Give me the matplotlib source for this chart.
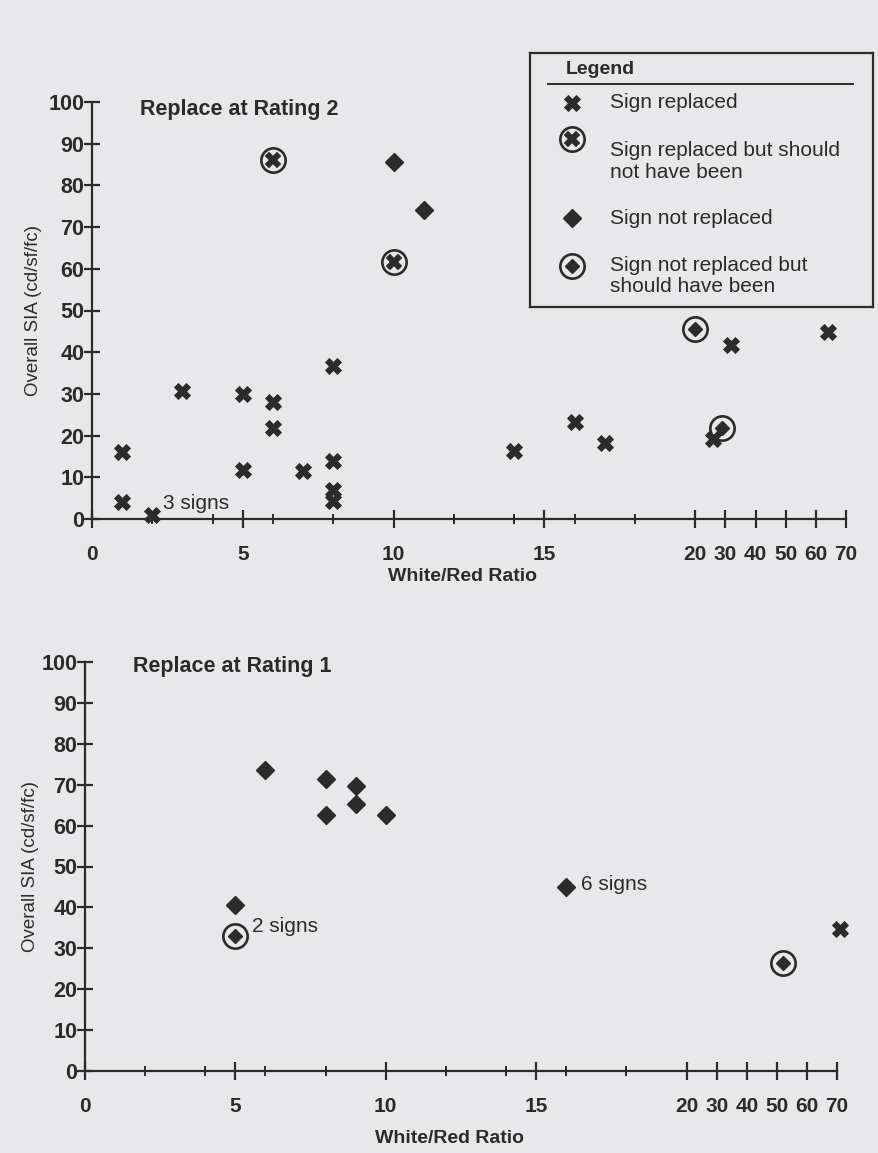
import numpy as np
import matplotlib
matplotlib.use("Agg")
import matplotlib.pyplot as plt

# ---------------- data ----------------
# Replace at Rating 2 (top panel)
r2_replaced_x = [1, 1, 2, 3, 5, 5, 6, 6, 7, 8, 8, 8, 8, 14, 16, 17, 26, 32, 64]
r2_replaced_y = [16, 4, 1, 30.8, 29.9, 11.7, 28, 21.8, 11.4, 36.6, 13.9, 7, 4.3, 16.4, 23.3, 18.3, 19.2, 41.8, 44.8]
r2_wrong_x = [6, 10]
r2_wrong_y = [86, 61.6]
r2_kept_x = [10, 11]
r2_kept_y = [85.6, 74]
r2_missed_x = [20, 29]
r2_missed_y = [45.5, 21.8]

# Replace at Rating 1 (bottom panel)
r1_replaced_x = [71]
r1_replaced_y = [34.7]
r1_wrong_x = []
r1_wrong_y = []
r1_kept_x = [6, 8, 9, 9, 8, 10, 5, 16]
r1_kept_y = [73.6, 71.5, 69.7, 65.4, 62.7, 62.5, 40.6, 45]
r1_missed_x = [5, 52]
r1_missed_y = [33, 26.4]

x_major = [0, 5, 10, 15, 20, 30, 40, 50, 60, 70]
x_minor = [2, 4, 6, 8, 12, 14, 16, 18]
y_ticks = [0, 10, 20, 30, 40, 50, 60, 70, 80, 90, 100]

titles = ["Replace at Rating 2", "Replace at Rating 1"]
ylabel = "Overall SIA (cd/sf/fc)"
xlabel = "White/Red Ratio"
legend_labels = ["Sign replaced", "Sign replaced but should\nnot have been",
                 "Sign not replaced", "Sign not replaced but\nshould have been"]

# ---------------- style ----------------
BG = "#e8e8eb"
INK = "#2b2b2b"
FONT = ["Liberation Sans", "DejaVu Sans"]
plt.rcParams["font.family"] = FONT


def fwd(x):
    x = np.asarray(x, dtype=float)
    return np.where(x <= 20, x, 20 + (x - 20) / 10.0)


def inv(t):
    t = np.asarray(t, dtype=float)
    return np.where(t <= 20, t, 20 + (t - 20) * 10.0)


def draw_replaced(ax, x, y):
    ax.plot(x, y, ls="none", marker="X", ms=12, color=INK, mec=INK, mew=0.6, clip_on=False, zorder=4)


def draw_wrong(ax, x, y):
    ax.plot(x, y, ls="none", marker="o", ms=17.5, mfc="none", mec=INK, mew=1.9, clip_on=False, zorder=4)
    ax.plot(x, y, ls="none", marker="X", ms=11, color=INK, mec=INK, mew=0.3, clip_on=False, zorder=4)


def draw_kept(ax, x, y):
    ax.plot(x, y, ls="none", marker="D", ms=8.8, color=INK, mec=INK, clip_on=False, zorder=4)


def draw_missed(ax, x, y):
    ax.plot(x, y, ls="none", marker="o", ms=17.5, mfc="none", mec=INK, mew=1.9, clip_on=False, zorder=4)
    ax.plot(x, y, ls="none", marker="D", ms=7, color=INK, mec=INK, clip_on=False, zorder=4)


fig = plt.figure(figsize=(8.79, 11.53), dpi=100, facecolor=BG)

panels = [
    dict(rect=[92 / 879, 1 - 519 / 1153, 26 * 30.16 / 879, 417 / 1153],
         data=(r2_replaced_x, r2_replaced_y, r2_wrong_x, r2_wrong_y, r2_kept_x, r2_kept_y, r2_missed_x, r2_missed_y),
         title=titles[0], title_pos=(0.061, 0.981), ylab_x=-0.0752,
         xlab_pos=(0.3775, -0.139),
         notes=[("3 signs", 2.35, 3.8)]),
    dict(rect=[85 / 879, 1 - 1071 / 1153, 26 * 30.08 / 879, 409 / 1153],
         data=(r1_replaced_x, r1_replaced_y, r1_wrong_x, r1_wrong_y, r1_kept_x, r1_kept_y, r1_missed_x, r1_missed_y),
         title=titles[1], title_pos=(0.0614, 0.988), ylab_x=-0.0703,
         xlab_pos=(0.371, -0.164),
         notes=[("2 signs", 5.55, 35.4), ("6 signs", 16.5, 45.5)]),
]

for p in panels:
    ax = fig.add_axes(p["rect"])
    ax.set_facecolor("none")
    ax.set_xscale("function", functions=(fwd, inv))
    ax.set_xlim(0, 80)
    ax.set_ylim(0, 100)
    for s in ["top", "right"]:
        ax.spines[s].set_visible(False)
    for s in ["left", "bottom"]:
        ax.spines[s].set_color(INK)
        ax.spines[s].set_linewidth(1.6)
    ax.spines["bottom"].set_bounds(0, 70)
    ax.spines["left"].set_bounds(0, 100)

    ax.set_xticks(x_major)
    ax.set_xticklabels([str(v) for v in x_major])
    ax.set_xticks(x_minor, minor=True)
    ax.set_yticks(y_ticks)
    ax.set_yticklabels([str(v) for v in y_ticks])
    ax.tick_params(axis="x", which="major", direction="inout", length=13, width=1.6,
                   color=INK, pad=12, labelsize=15, labelcolor=INK)
    ax.tick_params(axis="x", which="minor", direction="inout", length=6.5, width=1.4, color=INK)
    ax.tick_params(axis="y", which="major", direction="inout", length=11, width=1.6,
                   color=INK, pad=0, labelsize=15.5, labelcolor=INK)
    for lab in ax.get_xticklabels() + ax.get_yticklabels():
        lab.set_fontweight("bold")

    rx, ry, wx, wy, kx, ky, mx, my = p["data"]
    draw_replaced(ax, rx, ry)
    if len(wx):
        draw_wrong(ax, wx, wy)
    draw_kept(ax, kx, ky)
    draw_missed(ax, mx, my)

    for txt, tx, ty in p["notes"]:
        ax.text(tx, ty, txt, fontsize=15, color=INK, ha="left", va="center")

    ax.text(p["title_pos"][0], p["title_pos"][1], p["title"], transform=ax.transAxes,
            fontsize=15.5, fontweight="bold", color=INK, ha="left", va="center")
    ax.text(p["ylab_x"], 0.5, ylabel, transform=ax.transAxes, rotation=90,
            fontsize=13.5, color=INK, ha="center", va="center")
    ax.set_xlabel(xlabel, fontsize=14, fontweight="bold", color=INK, ha="left", va="center")
    ax.xaxis.set_label_coords(*p["xlab_pos"])

# ---------------- legend box ----------------
lg = fig.add_axes([530 / 879, 1 - 307 / 1153, 343 / 879, 254 / 1153])
lg.set_xlim(530, 873)
lg.set_ylim(307, 53)
lg.set_facecolor("none")
lg.set_xticks([])
lg.set_yticks([])
for s in lg.spines.values():
    s.set_color(INK)
    s.set_linewidth(1.6)
lg.text(566, 70, "Legend", fontsize=14, fontweight="bold", color=INK, ha="left", va="center")
lg.plot([548, 853], [84, 84], color=INK, lw=1.4)
draw_replaced(lg, [572], [103])
draw_wrong(lg, [572], [139])
draw_kept(lg, [572], [218])
draw_missed(lg, [572], [266])
lg.text(610, 103, legend_labels[0], fontsize=15, color=INK, ha="left", va="center")
lg.text(610, 161, legend_labels[1], fontsize=15, color=INK, ha="left", va="center", linespacing=1.2)
lg.text(610, 219, legend_labels[2], fontsize=15, color=INK, ha="left", va="center")
lg.text(610, 276, legend_labels[3], fontsize=15, color=INK, ha="left", va="center", linespacing=1.15)

fig.savefig("out.png", dpi=100, facecolor=BG)
